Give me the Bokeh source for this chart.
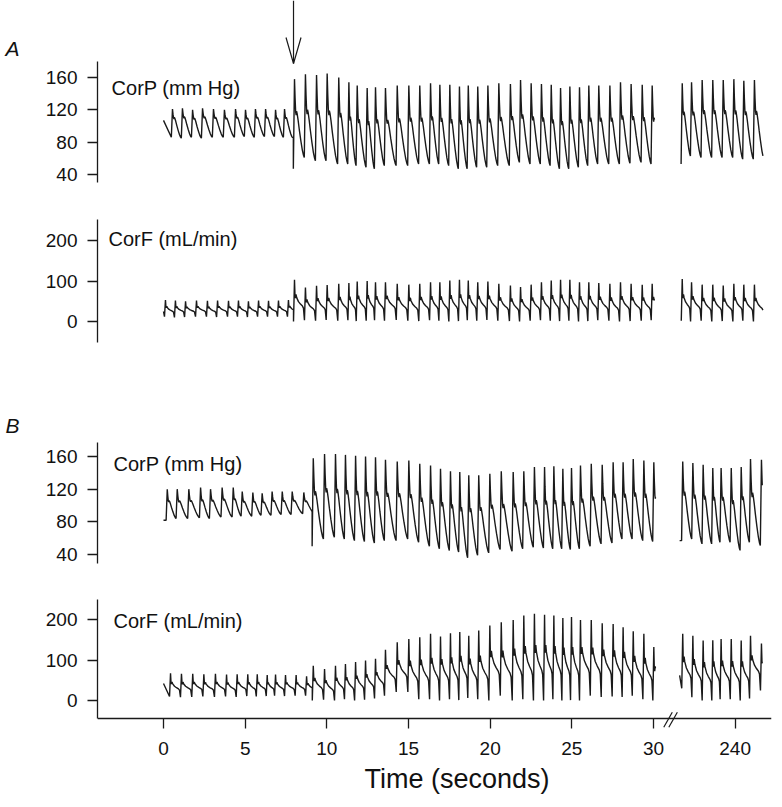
from bokeh.plotting import figure
from bokeh.layouts import column, row
from bokeh.models import Range1d, FixedTicker, Label, Span, Title
from bokeh.core.properties import value
from bokeh.embed import file_html
from bokeh.resources import INLINE

# ---------------- values ----------------
BREAK_AT = 100.0        # times above this lie after the axis break
BREAK_SHIFT = 205.0     # 240 s is drawn where 35 s would be
X_TICKS = [0, 5, 10, 15, 20, 25, 30, 240]
PANEL_LETTERS = ["A", "B"]

# ---- Experiment A ----
A_INTERVENTION = 7.96
A_PRE_P_T = [0.55, 1.16, 1.78, 2.39, 3.06, 3.73, 4.41, 5.02, 5.63, 6.25, 6.86, 7.41]
A_PRE_P_SYS = [121, 122, 120, 122, 121, 120, 121, 120, 121, 121, 120, 121]
A_PRE_P_DIA = [86, 85, 86, 85, 86, 86, 86, 87, 86, 87, 87, 86]
A_PRE_P_START = 107

A_POST_T = [8.02, 8.69, 9.37, 10.02, 10.73, 11.35, 11.86, 12.47, 12.98, 13.59,
            14.31, 15.02, 15.69, 16.35, 16.92, 17.53, 18.12, 18.66, 19.24, 19.86,
            20.53, 21.24, 21.86, 22.51, 23.14, 23.74, 24.31, 24.88, 25.47, 26.04,
            26.65, 27.33, 27.98, 28.63, 29.31, 29.92]
A_POST_END = 30.06
A_POST_P_SYS = [158, 164, 163, 165, 160, 154, 150, 147, 148, 147, 150, 150, 150, 153, 151, 151, 149, 150,
                149, 150, 153, 152, 157, 153, 152, 151, 147, 149, 148, 150, 150, 150, 154, 152, 151, 150]
A_POST_P_DIA = [47, 61, 57, 57, 53, 53, 51, 49, 47, 51, 51, 51, 53, 53, 53, 51, 47, 47,
                49, 49, 51, 51, 55, 53, 53, 51, 47, 47, 49, 51, 53, 53, 53, 54, 55, 53]

A_BRK_T = [236.76, 237.33, 237.98, 238.63, 239.27, 239.92, 240.53, 241.18]
A_BRK_END = 241.70
A_BRK_P_SYS = [153, 154, 157, 157, 157, 158, 156, 157]
A_BRK_P_DIA = [53, 63, 61, 61, 61, 61, 59, 59]

A_PRE_F_T = [0.12, 0.73, 1.35, 2.02, 2.69, 3.31, 3.98, 4.59, 5.20, 5.82, 6.43, 7.04, 7.65]
A_PRE_F_SYS = [53, 52, 50, 52, 51, 52, 51, 52, 50, 52, 51, 52, 53]
A_PRE_F_DIA = [12, 10, 11, 12, 12, 11, 12, 12, 11, 12, 12, 12, 12]
A_PRE_F_START = 25
A_POST_F_SYS = [103, 84, 88, 90, 93, 95, 99, 100, 97, 97, 93, 91, 93, 97, 97, 101, 103, 101,
                97, 99, 93, 89, 85, 91, 97, 101, 103, 103, 97, 97, 95, 93, 97, 93, 91, 93]
A_POST_F_DIA = [0, 3, 2, 4, 2, 3, 1, 2, 3, 2, 4, 2, 1, 3, 2, 0, 1, 3,
                2, 4, 2, 1, 0, 2, 3, 2, 1, 2, 0, 1, 3, 2, 0, 1, 2, 3]
A_BRK_F_SYS = [105, 97, 91, 91, 89, 93, 91, 91]
A_BRK_F_DIA = [2, 0, 2, 0, 1, 0, 2, 0]

# ---- Experiment B ----
B_PRE_P_T = [0.23, 0.84, 1.55, 2.27, 2.88, 3.59, 4.27, 4.82, 5.47, 6.04, 6.65, 7.27, 7.88, 8.59]
B_PRE_P_SYS = [120, 120, 120, 122, 120, 122, 122, 117, 116, 115, 117, 117, 117, 116]
B_PRE_P_DIA = [82, 84, 84, 85, 84, 86, 86, 87, 87, 88, 88, 89, 89, 90]
B_PRE_P_START = 82

B_POST_T = [9.17, 9.86, 10.53, 11.14, 11.76, 12.37, 12.98, 13.59, 14.31, 15.02,
            15.69, 16.35, 16.96, 17.57, 18.14, 18.69, 19.30, 19.98, 20.68, 21.41,
            22.06, 22.71, 23.33, 23.90, 24.45, 24.98, 25.53, 26.19, 26.86, 27.53,
            28.14, 28.76, 29.41, 30.02]
B_POST_END = 30.12
B_POST_P_SYS = [158, 163, 163, 162, 161, 160, 159, 156, 154, 155, 151, 149, 145, 142, 141, 137, 137,
                139, 142, 141, 142, 147, 147, 148, 145, 146, 149, 151, 150, 153, 153, 157, 155, 153]
B_POST_P_DIA = [50, 59, 61, 59, 57, 56, 54, 57, 57, 59, 55, 50, 47, 45, 43, 36, 39,
                42, 46, 44, 47, 49, 48, 47, 47, 46, 47, 50, 53, 54, 59, 59, 57, 56]

B_BRK_START = 236.60
B_BRK_T = [236.79, 237.41, 238.04, 238.63, 239.14, 239.76, 240.37, 240.94, 241.61]
B_BRK_END = 241.66
B_BRK_P_START = 57
B_BRK_P_SYS = [154, 152, 150, 146, 146, 146, 147, 157, 156]
B_BRK_P_DIA = [57, 59, 53, 53, 55, 55, 45, 55, 51]

B_PRE_F_T = [0.43, 1.10, 1.79, 2.47, 3.18, 3.86, 4.51, 5.16, 5.74, 6.35, 6.86, 7.47, 8.12, 8.76]
B_PRE_F_SYS = [67, 66, 66, 65, 66, 64, 65, 65, 65, 63, 64, 63, 63, 60]
B_PRE_F_DIA = [10, 8, 9, 10, 9, 10, 9, 11, 10, 11, 12, 11, 12, 12]
B_PRE_F_START = 42
B_POST_F_SYS = [86, 78, 86, 90, 95, 99, 103, 125, 144, 152, 156, 165, 158, 166, 169, 160, 173,
                185, 193, 199, 210, 214, 212, 210, 204, 206, 199, 199, 191, 189, 181, 171, 165, 132]
B_POST_F_DIA = [0, 2, 0, 3, 0, 2, 5, 12, 21, 21, 3, 3, 0, 3, 1, 6, 3,
                0, 12, 0, 3, 0, 0, 3, 0, 1, 0, 12, 9, 10, 9, 12, 3, 0]
B_BRK_F_START = 62
B_BRK_F_SYS = [165, 160, 148, 149, 152, 152, 148, 160, 141]
B_BRK_F_DIA = [30, 8, 0, 0, 3, 3, 0, 5, 25]

# ---------------- beat shapes (style) ----------------
UP_P = 0.07
UP_F = 0.06


def p_decay(n):
    return [(0.0, 1.0), (0.06, n + (1 - n) * 0.45), (0.12, n + 0.02), (0.17, n - 0.02),
            (0.21, n + 0.03), (0.27, n), (0.37, n * 0.85), (0.5, n * 0.62),
            (0.65, n * 0.38), (0.8, n * 0.17), (0.92, n * 0.05), (1.0, 0.0)]


F_DECAY = [(0.0, 1.0), (0.05, 0.62), (0.1, 0.55), (0.15, 0.64), (0.22, 0.56), (0.4, 0.46),
           (0.6, 0.40), (0.8, 0.35), (0.9, 0.30), (1.0, 0.0)]


def beats(peaks, sys, dia, up, decay):
    xs, ys = [], []
    n = len(peaks)
    for i in range(n):
        xs += [peaks[i] - up, peaks[i]]
        ys += [dia[i], sys[i]]
        if i + 1 < n:
            t_end, d_next = peaks[i + 1] - up, dia[i + 1]
        else:
            t_end, d_next = peaks[i] + (peaks[i] - peaks[i - 1]) - up, dia[i]
        dur = t_end - peaks[i]
        for f, r in decay[1:]:
            if f >= 1.0 and i + 1 < n:
                continue
            xs.append(peaks[i] + f * dur)
            ys.append(d_next + r * (sys[i] - d_next))
    return xs, ys


def segment(te, peaks, sys, dia, up, decay, ts=None, v0=None):
    xs, ys = beats(peaks, sys, dia, up, decay)
    if v0 is not None and ts < xs[0]:
        xs, ys = [ts] + xs, [v0] + ys
    ox, oy = [], []
    for k in range(len(xs)):
        if xs[k] <= te:
            ox.append(xs[k]); oy.append(ys[k])
        else:
            x0, y0, x1, y1 = xs[k - 1], ys[k - 1], xs[k], ys[k]
            ox.append(te); oy.append(y0 + (y1 - y0) * (te - x0) / (x1 - x0))
            break
    else:
        if ox[-1] < te:
            ox.append(te); oy.append(oy[-1])
    return ox, oy


def axis_t(ts):
    return [t - BREAK_SHIFT if t > BREAK_AT else t for t in ts]


# ---------------- layout constants ----------------
FONT = "Liberation Sans"
X0, X1 = -4.041, 37.225        # frame spans page x 97 .. 771
STRIP_W = 30
W = 752
INK = "#1a1a1a"
x_range = Range1d(X0, X1)


def make_fig(height, yr, bounds, ticks, bottom=0, show_x=False):
    p = figure(width=W, height=height, x_range=x_range, y_range=Range1d(*yr),
               output_backend="svg", toolbar_location=None,
               x_axis_location="below" if show_x else None,
               min_border_left=67, min_border_right=11, min_border_top=0,
               min_border_bottom=bottom)
    p.outline_line_color = None
    p.grid.visible = False
    p.background_fill_color = "white"
    p.border_fill_color = "white"
    ax = p.yaxis[0]
    ax.bounds = bounds
    ax.ticker = FixedTicker(ticks=ticks)
    ax.minor_tick_line_color = None
    ax.major_tick_out = 10
    ax.major_tick_in = 0
    ax.major_label_standoff = 10
    ax.axis_line_color = INK
    ax.axis_line_width = 1.3
    ax.major_tick_line_color = INK
    ax.major_tick_line_width = 1.3
    ax.major_label_text_font = FONT
    ax.major_label_text_font_size = "19px"
    ax.major_label_text_color = "#111111"
    return p


def add_label(p, x, y, text, size="20px"):
    p.add_layout(Label(x=x, y=y, text=text, text_font=FONT, text_font_size=size,
                       text_align="left", text_baseline="alphabetic", text_color="#111111"))


def draw(p, parts):
    for xs, ys in parts:
        p.line(axis_t(xs), ys, line_color=INK, line_width=1.4)


# ---------------- Panel A CorP ----------------
pA1 = make_fig(200, (7.84, 255.3), (30, 180), [40, 80, 120, 160])
pre = segment(A_POST_T[0] - UP_P, A_PRE_P_T, A_PRE_P_SYS, A_PRE_P_DIA, UP_P, p_decay(0.68), 0.0, A_PRE_P_START)
post = segment(A_POST_END, A_POST_T, A_POST_P_SYS, A_POST_P_DIA, UP_P, p_decay(0.56))
brk = segment(A_BRK_END, A_BRK_T, A_BRK_P_SYS, A_BRK_P_DIA, UP_P, p_decay(0.58))
draw(pA1, [(pre[0] + post[0], pre[1] + post[1]), brk])
add_label(pA1, -3.18, 147.6, "CorP (mm Hg)")
# arrow marking the intervention (tip, head base, frame top in y units)
tip, head, top = 177.3, 209.5, 255.3
pA1.multi_line([[A_INTERVENTION, A_INTERVENTION],
                [A_INTERVENTION - 0.46, A_INTERVENTION, A_INTERVENTION + 0.46]],
               [[top, tip], [head, tip, head]], line_color=INK, line_width=1.2)

# ---------------- Panel A CorF ----------------
pA2 = make_fig(180, (-145.7, 298.8), (-52, 252), [0, 100, 200])
pre = segment(A_POST_T[0] - UP_F, A_PRE_F_T, A_PRE_F_SYS, A_PRE_F_DIA, UP_F, F_DECAY, 0.0, A_PRE_F_START)
post = segment(A_POST_END, A_POST_T, A_POST_F_SYS, A_POST_F_DIA, UP_F, F_DECAY)
brk = segment(A_BRK_END, A_BRK_T, A_BRK_F_SYS, A_BRK_F_DIA, UP_F, F_DECAY)
draw(pA2, [(pre[0] + post[0], pre[1] + post[1]), brk])
add_label(pA2, -3.37, 202.5, "CorF (mL/min)")

# ---------------- Panel B CorP ----------------
pB1 = make_fig(200, (8.16, 253.1), (29, 177), [40, 80, 120, 160])
pre = segment(B_POST_T[0] - UP_P, B_PRE_P_T, B_PRE_P_SYS, B_PRE_P_DIA, UP_P, p_decay(0.58), 0.0, B_PRE_P_START)
post = segment(B_POST_END, B_POST_T, B_POST_P_SYS, B_POST_P_DIA, UP_P, p_decay(0.56))
brk = segment(B_BRK_END, B_BRK_T, B_BRK_P_SYS, B_BRK_P_DIA, UP_P, p_decay(0.58), B_BRK_START, B_BRK_P_START)
draw(pB1, [(pre[0] + post[0], pre[1] + post[1]), brk])
add_label(pB1, -3.06, 151.4, "CorP (mm Hg)")

# ---------------- Panel B CorF (carries the time axis) ----------------
AXIS_Y = -44.44           # y value where the time axis line sits
pB2 = make_fig(226, (-69.1, 296.3), (AXIS_Y, 249.4), [0, 100, 200], bottom=78, show_x=True)
pre = segment(B_POST_T[0] - UP_F, B_PRE_F_T, B_PRE_F_SYS, B_PRE_F_DIA, UP_F, F_DECAY, 0.0, B_PRE_F_START)
post = segment(B_POST_END, B_POST_T, B_POST_F_SYS, B_POST_F_DIA, UP_F, F_DECAY)
brk = segment(B_BRK_END, B_BRK_T, B_BRK_F_SYS, B_BRK_F_DIA, UP_F, F_DECAY, B_BRK_START, B_BRK_F_START)
draw(pB2, [(pre[0] + post[0], pre[1] + post[1]), brk])
add_label(pB2, -3.06, 197.5, "CorF (mL/min)")

pB2.add_layout(Span(location=AXIS_Y, dimension="width", line_color=INK, line_width=1.3))
xa = pB2.xaxis[0]
tick_pos = axis_t(X_TICKS)
xa.ticker = FixedTicker(ticks=tick_pos)
xa.major_label_overrides = {pos: str(t) for pos, t in zip(tick_pos, X_TICKS)}
xa.axis_line_color = None
xa.minor_tick_line_color = None
xa.major_tick_out = 0
xa.major_tick_in = 10
xa.major_label_standoff = 13
xa.major_tick_line_color = INK
xa.major_tick_line_width = 1.3
xa.major_label_text_font = FONT
xa.major_label_text_font_size = "19px"
xa.major_label_text_color = "#111111"
# axis-break marks "//"
bx = 30.63
pB2.multi_line([[bx, bx + 0.52], [bx + 0.31, bx + 0.83]],
               [[-65.9, -28.9], [-65.9, -28.9]], line_color=INK, line_width=1.2)
pB2.add_layout(Title(text="Time (seconds)", align="left", offset=267, standoff=9,
                     text_font=FONT, text_font_size="27px", text_font_style="normal",
                     text_color="#111111"), "below")

# ---------------- panel letters ----------------
strip = figure(width=STRIP_W, height=806, x_range=Range1d(0, STRIP_W), y_range=Range1d(806, 0),
               output_backend="svg", toolbar_location=None,
               x_axis_location=None, y_axis_location=None,
               min_border_left=0, min_border_right=0, min_border_top=0, min_border_bottom=0)
strip.outline_line_color = None
strip.grid.visible = False
strip.text(x=[5, 5], y=[48, 425], text=PANEL_LETTERS, text_font=value(FONT),
           text_font_size="21px", text_font_style="italic", text_baseline="alphabetic",
           text_color="#111111")

layout = row(strip, column(pA1, pA2, pB1, pB2, spacing=0), spacing=0)
open("out.html", "w").write(file_html(layout, INLINE))
